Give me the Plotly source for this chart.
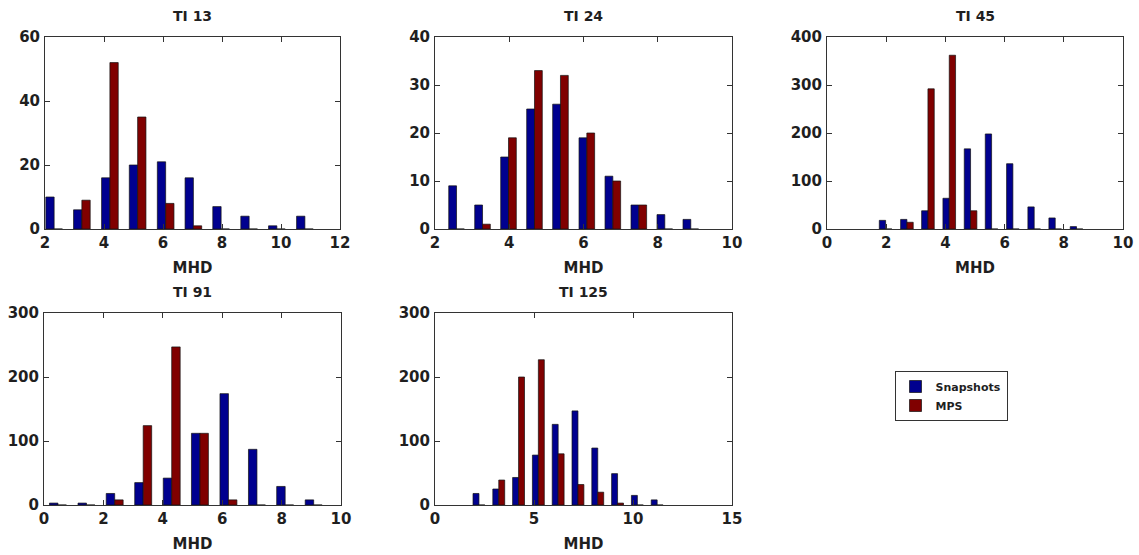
import plotly.graph_objects as go

# Histogram bin centres (MHD) and counts for each training image
ti13_centers = [2.31, 3.25, 4.20, 5.14, 6.09, 7.03, 7.97, 8.92, 9.86, 10.81]
ti13_snapshots = [10, 6, 16, 20, 21, 16, 7, 4, 1, 4]
ti13_mps = [0, 9, 52, 35, 8, 1, 0, 0, 0, 0]

ti24_centers = [2.58, 3.28, 3.98, 4.68, 5.38, 6.09, 6.79, 7.49, 8.19, 8.89]
ti24_snapshots = [9, 5, 15, 25, 26, 19, 11, 5, 3, 2]
ti24_mps = [0, 1, 19, 33, 32, 20, 10, 5, 0, 0]

ti45_centers = [1.98, 2.70, 3.41, 4.13, 4.85, 5.56, 6.28, 7.00, 7.71, 8.43]
ti45_snapshots = [18, 20, 38, 64, 167, 198, 136, 46, 23, 5]
ti45_mps = [0, 14, 292, 362, 38, 0, 0, 0, 0, 0]

ti91_centers = [0.47, 1.43, 2.38, 3.34, 4.30, 5.25, 6.21, 7.17, 8.12, 9.08]
ti91_snapshots = [3, 3, 18, 35, 42, 112, 174, 87, 29, 8]
ti91_mps = [0, 0, 8, 124, 247, 112, 8, 0, 0, 0]

ti125_centers = [2.22, 3.22, 4.22, 5.22, 6.22, 7.22, 8.22, 9.22, 10.22, 11.22]
ti125_snapshots = [18, 25, 43, 78, 126, 147, 89, 49, 15, 8]
ti125_mps = [0, 39, 200, 227, 80, 32, 20, 3, 0, 0]

titles = ["TI 13", "TI 24", "TI 45", "TI 91", "TI 125"]
x_ranges = [[2, 12], [2, 10], [0, 10], [0, 10], [0, 15]]
x_dticks = [2, 2, 2, 2, 5]
y_ranges = [[0, 60], [0, 40], [0, 400], [0, 300], [0, 300]]
y_dticks = [20, 10, 100, 100, 100]

W, H = 1139, 555
BLUE = "#00008F"
RED = "#800000"
FONT = "DejaVu Sans, Verdana, sans-serif"
TEXT = "#1f1f1f"

# pixel boxes of the five axes: left, right, top, bottom
boxes = [
    (45, 340, 37, 229),
    (435, 732, 37, 229),
    (827, 1123, 37, 229),
    (44, 341, 313, 505),
    (435, 732, 313, 505),
]

series = [
    (ti13_centers, ti13_snapshots, ti13_mps),
    (ti24_centers, ti24_snapshots, ti24_mps),
    (ti45_centers, ti45_snapshots, ti45_mps),
    (ti91_centers, ti91_snapshots, ti91_mps),
    (ti125_centers, ti125_snapshots, ti125_mps),
]

fig = go.Figure()
layout = {}
annotations = []

tick_font = dict(family=FONT, size=15, color=TEXT, weight="bold")

for i, (centers, snap, mps) in enumerate(series):
    k = i + 1
    sfx = "" if k == 1 else str(k)
    xa, ya = "x" + sfx, "y" + sfx
    fig.add_trace(go.Bar(
        x=centers, y=snap, xaxis=xa, yaxis=ya, name="Snapshots",
        marker=dict(color=BLUE, line=dict(color="#111111", width=0.7)),
        showlegend=(i == 0), legendgroup="snap", offsetgroup="snap",
    ))
    fig.add_trace(go.Bar(
        x=centers, y=mps, xaxis=xa, yaxis=ya, name="MPS",
        marker=dict(color=RED, line=dict(color="#111111", width=0.7)),
        showlegend=(i == 0), legendgroup="mps", offsetgroup="mps",
    ))
    l, r, t, b = boxes[i]
    common = dict(
        ticks="inside", ticklen=5, tickwidth=1, tickcolor="#333333",
        mirror="ticks", showline=True, linecolor="#333333", linewidth=1,
        showgrid=False, zeroline=False, tickfont=tick_font, fixedrange=True,
        automargin=False,
    )
    layout["xaxis" + sfx] = dict(
        domain=[l / W, r / W], anchor=ya, range=x_ranges[i],
        tick0=0, dtick=x_dticks[i],
        title=dict(text="MHD", standoff=11,
                   font=dict(family=FONT, size=15, color=TEXT, weight="bold")),
        **common,
    )
    layout["yaxis" + sfx] = dict(
        domain=[1 - b / H, 1 - t / H], anchor=xa, range=y_ranges[i],
        tick0=0, dtick=y_dticks[i], ticklabelstandoff=1,
        **common,
    )
    annotations.append(dict(
        text=titles[i], xref="paper", yref="paper",
        x=(l + r) / 2 / W, y=1 - (t - 21) / H,
        xanchor="center", yanchor="middle", showarrow=False,
        font=dict(family=FONT, size=14, color=TEXT, weight="bold"),
    ))

fig.update_layout(
    width=W, height=H,
    margin=dict(l=0, r=0, t=0, b=0, autoexpand=False),
    paper_bgcolor="white", plot_bgcolor="white",
    barmode="group", bargap=0.4, bargroupgap=0,
    showlegend=True,
    legend=dict(
        x=951 / W, y=1 - 396 / H, xanchor="center", yanchor="middle",
        bordercolor="#333333", borderwidth=1, bgcolor="white",
        font=dict(family=FONT, size=11, color=TEXT, weight="bold"),
        tracegroupgap=0, itemwidth=30,
    ),
    annotations=annotations,
    **layout,
)

fig.write_html("out.html")
